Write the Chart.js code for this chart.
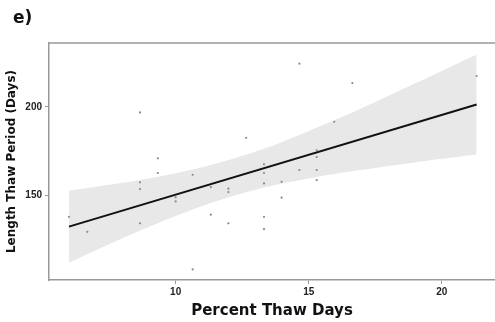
<!DOCTYPE html>
<html>
<head>
<meta charset="utf-8">
<script src="https://cdn.jsdelivr.net/npm/chart.js@4/dist/chart.umd.min.js"></script>
<style>
  html, body { margin: 0; padding: 0; background: #ffffff; overflow: hidden; }
  #wrap { position: relative; width: 495px; height: 322px; }
  #panel { position: absolute; left: 13px; top: 7px; font: bold 17px "DejaVu Sans", sans-serif; color: #111; }
  canvas { position: absolute; left: 0; top: 0; }
</style>
</head>
<body>
<div id="wrap">
  <canvas id="c" width="495" height="322"></canvas>
  <div id="panel">e)</div>
</div>
<script>
// Observed points: Percent Thaw Days vs Length Thaw Period (Days)
const pointX = [5.99, 6.68, 8.66, 8.66, 8.66, 8.66, 9.33, 9.33, 10.0, 10.0,
                10.64, 10.64, 11.32, 11.32, 11.98, 11.98, 11.98, 12.65, 13.32, 13.32,
                13.32, 13.32, 13.32, 13.98, 13.98, 14.65, 14.65, 15.30, 15.30, 15.30,
                15.30, 15.96, 16.64, 21.31];
const pointY = [137.7, 129.2, 196.8, 157.2, 153.4, 134.0, 170.8, 162.5, 148.7, 146.4,
                161.5, 107.9, 154.5, 138.9, 153.6, 151.7, 134.0, 182.4, 167.4, 162.5,
                156.6, 137.7, 130.7, 157.5, 148.5, 224.4, 164.2, 175.3, 171.5, 164.2,
                158.5, 191.5, 213.4, 217.4];

// Fitted line (end points)
const fitX = [5.99, 21.31];
const fitY = [132.1, 201.3];

// Confidence band
const bandX     = [5.99, 7, 8, 9, 10, 11, 12, 13, 14, 15, 16, 17, 18, 19, 20, 21.31];
const bandUpper = [152.5, 154.7, 156.9, 159.4, 162.3, 165.7, 169.8, 174.6, 180.1, 186.2, 192.6, 199.3, 206.3, 213.3, 220.3, 229.6];
const bandLower = [111.7, 118.7, 125.5, 132.0, 138.1, 143.8, 148.8, 153.0, 156.5, 159.4, 162.0, 164.3, 166.5, 168.5, 170.5, 173.0];

// Tick labels
const xTicks = [10, 15, 20];
const yTicks = [150, 200];

const xy = (xs, ys) => xs.map((x, i) => ({ x: x, y: ys[i] }));

const topBorder = {
  id: 'topBorder',
  afterDraw(chart) {
    const { ctx, chartArea } = chart;
    ctx.save();
    ctx.strokeStyle = '#999';
    ctx.lineWidth = 1.5;
    ctx.beginPath();
    ctx.moveTo(chartArea.left - 0.75, chartArea.top);
    ctx.lineTo(chart.width, chartArea.top);
    ctx.stroke();
    ctx.restore();
  }
};

new Chart(document.getElementById('c'), {
  type: 'scatter',
  data: {
    datasets: [
      {
        label: 'points',
        data: xy(pointX, pointY),
        pointRadius: 1.1,
        pointHoverRadius: 0,
        pointBackgroundColor: '#8a8a8a',
        pointBorderWidth: 0,
        showLine: false,
        order: 0
      },
      {
        label: 'fit',
        type: 'line',
        data: xy(fitX, fitY),
        borderColor: '#111',
        borderWidth: 2,
        pointRadius: 0,
        pointHoverRadius: 0,
        fill: false,
        order: 1
      },
      {
        label: 'upper',
        type: 'line',
        data: xy(bandX, bandUpper),
        borderWidth: 0,
        borderColor: 'rgba(0,0,0,0)',
        pointRadius: 0,
        pointHoverRadius: 0,
        tension: 0.3,
        backgroundColor: '#e8e8e8',
        fill: '+1',
        order: 2
      },
      {
        label: 'lower',
        type: 'line',
        data: xy(bandX, bandLower),
        borderWidth: 0,
        borderColor: 'rgba(0,0,0,0)',
        pointRadius: 0,
        pointHoverRadius: 0,
        tension: 0.3,
        fill: false,
        order: 3
      }
    ]
  },
  options: {
    responsive: false,
    animation: false,
    events: [],
    layout: { autoPadding: false, padding: { top: 43, left: 0, right: 0, bottom: 0 } },
    plugins: { legend: { display: false }, tooltip: { enabled: false } },
    scales: {
      x: {
        type: 'linear',
        min: 5.24,
        max: 22.0,
        afterFit(s) { s.height = 42; s.paddingLeft = 0; s.paddingRight = 0; },
        afterBuildTicks(s) { s.ticks = xTicks.map(v => ({ value: v })); },
        grid: { drawOnChartArea: false, drawTicks: true, tickLength: 4, color: '#999', lineWidth: 1 },
        border: { display: true, color: '#999', width: 1.5 },
        ticks: { color: '#222', padding: 2, font: { family: '"Liberation Sans", Arial, sans-serif', weight: 'bold', size: 10 } },
        title: { display: true, text: 'Percent Thaw Days', color: '#111',
                 padding: { top: 0, bottom: 2 },
                 font: { family: '"DejaVu Sans", sans-serif', weight: 'bold', size: 15 } }
      },
      y: {
        type: 'linear',
        min: 101.9,
        max: 236.1,
        afterFit(s) { s.width = 49; s.paddingTop = 0; s.paddingBottom = 0; },
        afterBuildTicks(s) { s.ticks = yTicks.map(v => ({ value: v })); },
        grid: { drawOnChartArea: false, drawTicks: true, tickLength: 4, color: '#999', lineWidth: 1 },
        border: { display: true, color: '#999', width: 1.5 },
        ticks: { color: '#222', padding: 3, font: { family: '"Liberation Sans", Arial, sans-serif', weight: 'bold', size: 10 } },
        title: { display: true, text: 'Length Thaw Period (Days)', color: '#111',
                 padding: { top: 5, bottom: 0 },
                 font: { family: '"DejaVu Sans", sans-serif', weight: 'bold', size: 12 } }
      }
    }
  },
  plugins: [topBorder]
});
</script>
</body>
</html>
